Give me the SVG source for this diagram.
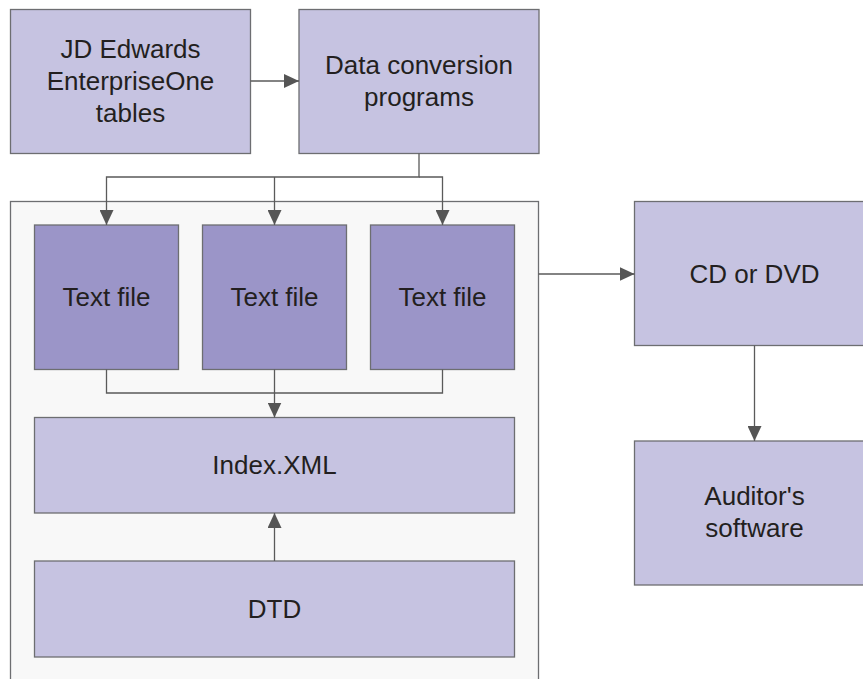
<svg xmlns="http://www.w3.org/2000/svg" width="863" height="679" viewBox="0 0 863 679">
<style>
.box{fill:#c6c3e1;stroke:#6d6e71;stroke-width:1.3}
.dark{fill:#9b95c8;stroke:#6d6e71;stroke-width:1.3}
.cont{fill:#f8f8f8;stroke:#6d6e71;stroke-width:1.3}
.lbl{font-family:"Liberation Sans",Arial,sans-serif;font-size:26px;fill:#231f20;text-anchor:middle}
.conn path{fill:none;stroke:#5a5a5a;stroke-width:1.3}
</style>
<defs>
<marker id="arr" markerUnits="userSpaceOnUse" markerWidth="15" markerHeight="14" refX="15" refY="7" orient="auto">
<path d="M0,0 L15,7 L0,14 z" fill="#555555"/>
</marker>
</defs>
<rect width="863" height="679" fill="#ffffff"/>
<g id="container"><rect class="cont" x="10.5" y="201.5" width="528" height="482"/></g>
<g id="jde"><rect class="box" x="10.5" y="9.5" width="240" height="144"/>
<text class="lbl" x="130.5" y="58">JD Edwards</text>
<text class="lbl" x="130.5" y="90">EnterpriseOne</text>
<text class="lbl" x="130.5" y="122">tables</text></g>
<g id="dcp"><rect class="box" x="299" y="9.5" width="240" height="144"/>
<text class="lbl" x="419" y="74">Data conversion</text>
<text class="lbl" x="419" y="106">programs</text></g>
<g id="tf1"><rect class="dark" x="34.5" y="225" width="144" height="144.5"/><text class="lbl" x="106.5" y="306">Text file</text></g>
<g id="tf2"><rect class="dark" x="202.5" y="225" width="144" height="144.5"/><text class="lbl" x="274.5" y="306">Text file</text></g>
<g id="tf3"><rect class="dark" x="370.5" y="225" width="144" height="144.5"/><text class="lbl" x="442.5" y="306">Text file</text></g>
<g id="index"><rect class="box" x="34.5" y="417.5" width="480" height="95.5"/><text class="lbl" x="274.5" y="474">Index.XML</text></g>
<g id="dtd"><rect class="box" x="34.5" y="561" width="480" height="96"/><text class="lbl" x="274.5" y="618">DTD</text></g>
<g id="cd"><rect class="box" x="634.5" y="201.5" width="240" height="144"/><text class="lbl" x="754.5" y="283">CD or DVD</text></g>
<g id="auditor"><rect class="box" x="634.5" y="441" width="240" height="144"/>
<text class="lbl" x="754.5" y="505">Auditor's</text>
<text class="lbl" x="754.5" y="537">software</text></g>
<g id="connectors" class="conn">
<path d="M250.5,81 H299" marker-end="url(#arr)"/>
<path d="M419,153.5 V177 H106.5 V225" marker-end="url(#arr)"/>
<path d="M274.5,177 V225" marker-end="url(#arr)"/>
<path d="M419,177 H442.5 V225" marker-end="url(#arr)"/>
<path d="M106.5,369.5 V393 H442.5 V369.5"/>
<path d="M274.5,369.5 V417.5" marker-end="url(#arr)"/>
<path d="M274.5,561 V513" marker-end="url(#arr)"/>
<path d="M538.5,274 H634.5" marker-end="url(#arr)"/>
<path d="M754.5,345.5 V441" marker-end="url(#arr)"/>
</g>
</svg>
